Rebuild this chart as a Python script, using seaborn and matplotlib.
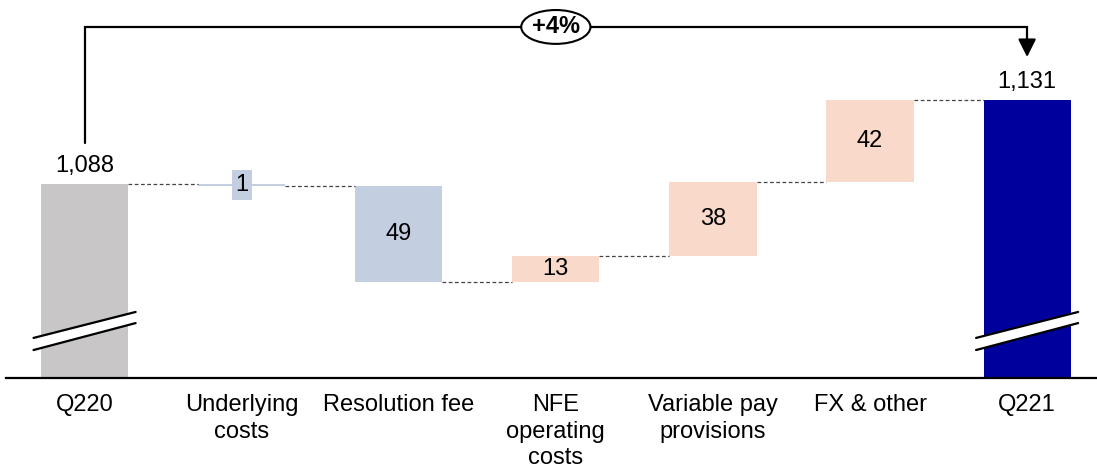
import numpy as np
import pandas as pd
import matplotlib
matplotlib.use("Agg")
import matplotlib.pyplot as plt
from matplotlib.patches import Polygon
import seaborn as sns

# ---- data ----
categories = ["Q220", "Underlying\ncosts", "Resolution fee", "NFE\noperating\ncosts",
              "Variable pay\nprovisions", "FX & other", "Q221"]
start_value = 1088
changes = [-1, -49, 13, 38, 42]
end_value = 1131
growth_label = "+4%"
value_labels = ["1,088", "1", "49", "13", "38", "42", "1,131"]

# ---- styles ----
c_total_start = "#C8C6C6"
c_decrease = "#C3CEE1"
c_increase = "#F9D9CA"
c_total_end = "#00009C"

sns.set_theme(style="white")
plt.rcParams["font.family"] = ["Liberation Sans", "DejaVu Sans"]

# build waterfall geometry from the data
ymin, ymax = 988.7, 1182.2
running = [start_value]
for ch in changes:
    running.append(running[-1] + ch)
bottoms, heights, colors = [], [], []
bottoms.append(ymin); heights.append(start_value - ymin); colors.append(c_total_start)
for i, ch in enumerate(changes):
    lo = min(running[i], running[i + 1])
    bottoms.append(lo); heights.append(abs(ch))
    colors.append(c_increase if ch > 0 else c_decrease)
bottoms.append(ymin); heights.append(end_value - ymin); colors.append(c_total_end)

df = pd.DataFrame({"cat": categories, "h": heights})

fig = plt.figure(figsize=(10.97, 4.71), dpi=100)
ax = fig.add_axes([0.0055, 0.1975, 0.9945, 0.8025])

bw = 0.555
sns.barplot(data=df, x="cat", y="h", bottom=bottoms, width=bw, color=c_decrease,
            ax=ax, linewidth=0, errorbar=None)
for p, c in zip(ax.patches, colors):
    p.set_facecolor(c)
    p.set_edgecolor("none")

ax.set_xlim(-0.5, 6.445)
ax.set_ylim(ymin, ymax)
for s in ["top", "left", "right"]:
    ax.spines[s].set_visible(False)
ax.spines["bottom"].set_color("black")
ax.spines["bottom"].set_linewidth(1.6)
ax.set_xlabel("")
ax.set_ylabel("")
ax.set_yticks([])
ax.tick_params(axis="x", length=0, pad=11.5, labelsize=17, colors="black")
for t in ax.get_xticklabels():
    t.set_linespacing(1.27)
    t.set_verticalalignment("top")

# connectors
levels = running + [end_value]
for i in range(6):
    lvl = levels[i] if i < 5 else levels[5]
    ax.plot([i + bw / 2, i + 1 - bw / 2], [lvl, lvl], color="#444444", lw=0.9,
            ls=(0, (3, 2)), zorder=1)

# value labels
ax.annotate(value_labels[0], (0, start_value), xytext=(0, 5), textcoords="offset points",
            ha="center", va="bottom", fontsize=17, color="black")
ax.annotate(value_labels[6], (6, end_value), xytext=(0, 5), textcoords="offset points",
            ha="center", va="bottom", fontsize=17, color="black")
for i, ch in enumerate(changes):
    mid = (running[i] + running[i + 1]) / 2
    kw = {}
    if abs(ch) < 5:
        kw["bbox"] = dict(boxstyle="square,pad=0.15", fc=c_decrease if ch < 0 else c_increase, ec="none")
    ax.text(i + 1, mid, value_labels[i + 1], ha="center", va="center", fontsize=17,
            color="black", **kw)

# axis break marks on total bars
for xc in [0, 6]:
    x0, x1 = xc - 0.325, xc + 0.325
    lo = [1003.0, 1016.8]
    hi = [1009.2, 1022.5]
    ax.add_patch(Polygon([[x0, lo[0]], [x1, lo[1]], [x1, hi[1]], [x0, hi[0]]],
                         closed=True, fc="white", ec="none", zorder=3))
    ax.plot([x0, x1], lo, color="black", lw=1.6, zorder=4)
    ax.plot([x0, x1], hi, color="black", lw=1.6, zorder=4)

# growth bracket
ytop = 1168.4
ax.plot([0, 0, 6, 6], [1109, ytop, ytop, 1160], color="black", lw=1.6,
        solid_joinstyle="miter", clip_on=False, zorder=2)
ax.annotate("", xy=(6, 1153), xytext=(6, 1161),
            arrowprops=dict(arrowstyle="-|>,head_length=0.9,head_width=0.45",
                            color="black", lw=1.6, shrinkA=0, shrinkB=0))
ax.text(3, ytop, growth_label, ha="center", va="center", fontsize=17, fontweight="bold",
        color="black", zorder=5,
        bbox=dict(boxstyle="ellipse,pad=0.02", fc="white", ec="black", lw=1.5))

fig.savefig("out.png", dpi=100)
